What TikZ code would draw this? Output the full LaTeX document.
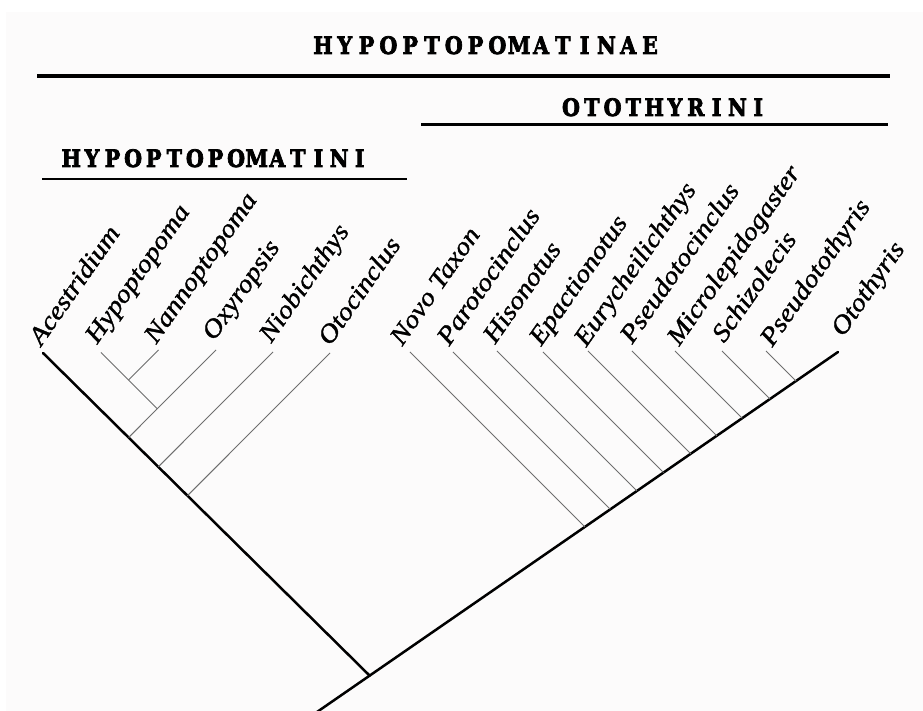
\documentclass[tikz,border=0pt]{standalone}
\usepackage{fontspec}
\setmainfont{Liberation Serif}
\newfontfamily\headfont{DejaVu Serif}[BoldFeatures={FakeBold=3.2}]
\newfontfamily\taxfont{Liberation Serif}[ItalicFeatures={FakeBold=1.3}]
\definecolor{paper}{RGB}{252,251,251}
\definecolor{branchgray}{RGB}{110,110,110}
\begin{document}
\begin{tikzpicture}[x=0.5pt,y=-0.5pt,
  thickline/.style={line width=1.25pt, black, line cap=round},
  thinline/.style={line width=0.5pt, branchgray},
  rule/.style={line width=#1, black},
  taxon/.style={font=\taxfont\itshape\fontsize{12.8}{14}\selectfont, rotate=55, xscale=1.12, anchor=base west, inner sep=0pt},
  headletter/.style={font=\headfont\bfseries\fontsize{12}{13}\selectfont, xscale=0.86, anchor=base, inner sep=0pt},
]
\useasboundingbox[fill=white] (0,0) rectangle (923,711);
\fill[paper] (6,12) rectangle (923,711);

% ---------- headings ----------
\foreach \ch [count=\i from 0] in {H,Y,P,O,P,T,O,P,O,M,A,T,I,N,A,E}
  \node[headletter] (hA\i) at (323+\i*21.8,54) {\ch};
\coordinate (rA1) at (37,76);
\coordinate (rA2) at (890,76);
\draw[rule=1.7pt] (rA1) -- (rA2);

\foreach \ch [count=\i from 0] in {O,T,O,T,H,Y,R,I,N,I}
  \node[headletter] (hO\i) at (571+\i*20.8,116) {\ch};
\coordinate (rO1) at (421,124.5);
\coordinate (rO2) at (888,124.5);
\draw[rule=1.1pt] (rO1) -- (rO2);

\foreach \ch [count=\i from 0] in {H,Y,P,O,P,T,O,P,O,M,A,T,I,N,I}
  \node[headletter] (hH\i) at (71.3+\i*20.6,167) {\ch};
\coordinate (rH1) at (42,179);
\coordinate (rH2) at (407,179);
\draw[rule=1.3pt] (rH1) -- (rH2);

% ---------- tree: main stems ----------
\coordinate (tAce) at (43,353);
\coordinate (base) at (317,712);
\coordinate (tOtt) at (838,352);
\coordinate (rootaux) at (369,675);
\coordinate (root) at (intersection of tAce--rootaux and base--tOtt);
\draw[thickline] (tAce) -- (root);
\draw[thickline] (base) -- (tOtt);

% ---------- left clade ----------
\coordinate (tHyp) at (101,352.5);
\coordinate (tNan) at (158.5,350);
\coordinate (tOxy) at (216,350);
\coordinate (tNio) at (273,352);
\coordinate (tOtc) at (330,353);
\path (tHyp) ++(100,100) coordinate (aHyp);
\path (tNan) ++(-100,100) coordinate (aNan);
\path (tOxy) ++(-100,100) coordinate (aOxy);
\path (tNio) ++(-100,100) coordinate (aNio);
\path (tOtc) ++(-100,100) coordinate (aOtc);
\coordinate (jHN) at (intersection of tNan--aNan and tHyp--aHyp);
\coordinate (jHNO) at (intersection of tHyp--aHyp and tOxy--aOxy);
\coordinate (jOxy) at (intersection of tOxy--aOxy and tAce--root);
\coordinate (jNio) at (intersection of tNio--aNio and tAce--root);
\coordinate (jOtc) at (intersection of tOtc--aOtc and tAce--root);
\draw[thinline] (tHyp) -- (jHNO);
\draw[thinline] (tNan) -- (jHN);
\draw[thinline] (tOxy) -- (jOxy);
\draw[thinline] (tNio) -- (jNio);
\draw[thinline] (tOtc) -- (jOtc);

% ---------- right clade ----------
\coordinate (tNovo) at (410,352);
\coordinate (tParo) at (453,352);
\coordinate (tHiso) at (497,351);
\coordinate (tEpac) at (543,352);
\coordinate (tEury) at (588,351);
\coordinate (tPseu) at (632,351);
\coordinate (tMicr) at (675,351);
\coordinate (tSchi) at (722,351);
\coordinate (tPsth) at (766,351);
\path (tNovo) ++(100,100) coordinate (aNovo);
\path (tParo) ++(100,100) coordinate (aParo);
\path (tHiso) ++(100,100) coordinate (aHiso);
\path (tEpac) ++(100,100) coordinate (aEpac);
\path (tEury) ++(100,100) coordinate (aEury);
\path (tPseu) ++(100,100) coordinate (aPseu);
\path (tMicr) ++(100,100) coordinate (aMicr);
\path (tSchi) ++(100,100) coordinate (aSchi);
\path (tPsth) ++(100,100) coordinate (aPsth);
\coordinate (jNovo) at (intersection of tNovo--aNovo and base--tOtt);
\coordinate (jParo) at (intersection of tParo--aParo and base--tOtt);
\coordinate (jHiso) at (intersection of tHiso--aHiso and base--tOtt);
\coordinate (jEpac) at (intersection of tEpac--aEpac and base--tOtt);
\coordinate (jEury) at (intersection of tEury--aEury and base--tOtt);
\coordinate (jPseu) at (intersection of tPseu--aPseu and base--tOtt);
\coordinate (jMicr) at (intersection of tMicr--aMicr and base--tOtt);
\coordinate (jSchi) at (intersection of tSchi--aSchi and base--tOtt);
\coordinate (jPsth) at (intersection of tPsth--aPsth and base--tOtt);
\draw[thinline] (tNovo) -- (jNovo);
\draw[thinline] (tParo) -- (jParo);
\draw[thinline] (tHiso) -- (jHiso);
\draw[thinline] (tEpac) -- (jEpac);
\draw[thinline] (tEury) -- (jEury);
\draw[thinline] (tPseu) -- (jPseu);
\draw[thinline] (tMicr) -- (jMicr);
\draw[thinline] (tSchi) -- (jSchi);
\draw[thinline] (tPsth) -- (jPsth);

% ---------- taxon labels ----------
\node[taxon] (lAce) at (41,347) {Acestridium};
\node[taxon] (lHyp) at (97,345) {Hypoptopoma};
\node[taxon] (lNan) at (156,345) {Nannoptopoma};
\node[taxon] (lOxy) at (214,342) {Oxyropsis};
\node[taxon] (lNio) at (271,344) {Niobichthys};
\node[taxon] (lOtc) at (330,347) {Otocinclus};
\node[taxon] (lNovo) at (402,347) {Novo Taxon};
\node[taxon] (lParo) at (449,347) {Parotocinclus};
\node[taxon] (lHiso) at (495,345) {Hisonotus};
\node[taxon] (lEpac) at (541,347) {Epactionotus};
\node[taxon] (lEury) at (586,348) {Eurycheilichthys};
\node[taxon] (lPseu) at (632,345) {Pseudotocinclus};
\node[taxon] (lMicr) at (679,347) {Microlepidogaster};
\node[taxon] (lSchi) at (724,344) {Schizolecis};
\node[taxon] (lPsth) at (772,348) {Pseudotothyris};
\node[taxon] (lOtt) at (843,338) {Otothyris};
\end{tikzpicture}
\end{document}
